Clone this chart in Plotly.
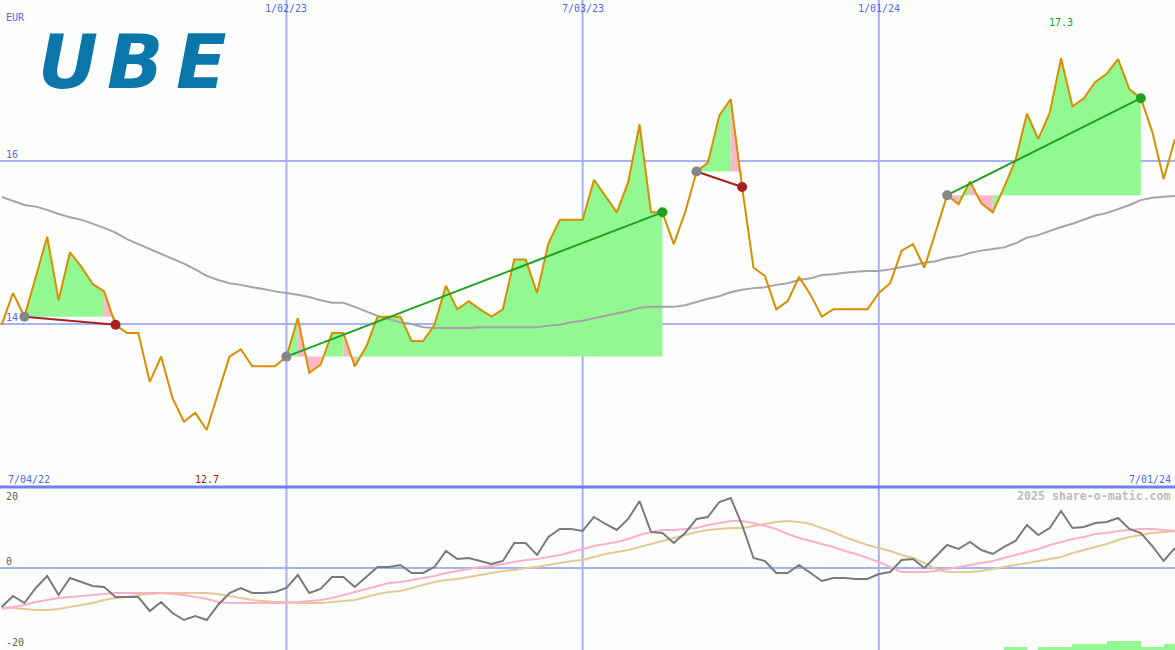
import plotly.graph_objects as go
import pandas as pd

# ---------------- data ----------------
start_date = "2022-07-11"
n_weeks = 104

price = [13.99, 14.38, 14.09, 14.58, 15.07, 14.29, 14.88, 14.70, 14.49, 14.40,
         13.99, 13.89, 13.89, 13.29, 13.60, 13.09, 12.80, 12.91, 12.70, 13.15,
         13.60, 13.69, 13.48, 13.48, 13.48, 13.60, 14.07, 13.40, 13.50, 13.89,
         13.89, 13.48, 13.72, 14.09, 14.09, 14.09, 13.79, 13.79, 13.99, 14.47,
         14.18, 14.28, 14.18, 14.09, 14.18, 14.79, 14.79, 14.38, 14.99, 15.28,
         15.28, 15.28, 15.77, 15.57, 15.37, 15.74, 16.45, 15.37, 15.37, 14.98,
         15.37, 15.87, 15.98, 16.56, 16.76, 15.68, 14.69, 14.59, 14.18, 14.28,
         14.58, 14.36, 14.09, 14.18, 14.18, 14.18, 14.18, 14.38, 14.50, 14.90,
         14.98, 14.69, 15.13, 15.58, 15.47, 15.75, 15.48, 15.37, 15.68, 16.01,
         16.58, 16.27, 16.59, 17.26, 16.67, 16.77, 16.97, 17.07, 17.25, 16.88,
         16.77, 16.36, 15.78, 16.27]

moving_avg = [15.56, 15.51, 15.46, 15.44, 15.40, 15.35, 15.31, 15.28, 15.23, 15.18,
              15.12, 15.04, 14.98, 14.92, 14.86, 14.80, 14.74, 14.67, 14.59, 14.54,
              14.50, 14.48, 14.45, 14.43, 14.40, 14.38, 14.36, 14.33, 14.29, 14.26,
              14.26, 14.21, 14.15, 14.10, 14.06, 14.02, 14.00, 13.96, 13.95, 13.95,
              13.95, 13.95, 13.96, 13.96, 13.96, 13.96, 13.96, 13.96, 13.98, 13.99,
              14.02, 14.04, 14.07, 14.10, 14.13, 14.16, 14.20, 14.21, 14.21, 14.21,
              14.23, 14.27, 14.31, 14.34, 14.39, 14.42, 14.44, 14.45, 14.48, 14.50,
              14.54, 14.56, 14.60, 14.61, 14.63, 14.64, 14.65, 14.65, 14.67, 14.70,
              14.72, 14.75, 14.77, 14.81, 14.83, 14.87, 14.90, 14.92, 14.94, 14.99,
              15.06, 15.09, 15.14, 15.19, 15.23, 15.28, 15.33, 15.36, 15.41, 15.46,
              15.52, 15.55, 15.56, 15.57]

momentum = [-9.75, -7.0, -8.75, -5.0, -2.0, -6.75, -2.5, -3.5, -4.5, -4.75,
            -7.25, -7.25, -7.25, -10.75, -8.5, -11.25, -13.0, -12.0, -13.0, -9.25,
            -6.25, -5.0, -6.25, -6.25, -6.0, -5.0, -1.75, -6.25, -5.25, -2.25,
            -2.25, -4.75, -2.25, 0.25, 0.25, 0.75, -1.25, -1.25, 0.25, 4.25,
            2.25, 2.5, 1.75, 1.0, 1.75, 6.25, 6.25, 3.25, 7.75, 9.75,
            9.75, 9.25, 12.75, 11.0, 9.5, 12.25, 16.75, 9.0, 8.75, 6.25,
            8.75, 12.25, 12.75, 16.5, 17.5, 10.75, 2.5, 1.75, -1.25, -1.25,
            0.75, -1.25, -3.25, -2.5, -2.5, -2.75, -2.75, -1.5, -1.0, 2.0,
            2.25, 0.0, 2.75, 5.75, 4.75, 6.5, 4.5, 3.5, 5.25, 6.75,
            10.75, 8.25, 10.0, 14.25, 10.0, 10.25, 11.25, 11.5, 12.5, 9.75,
            8.75, 5.5, 1.75, 5.0]

signal_fast = [-10.25, -9.75, -9.25, -8.5, -8.0, -7.5, -7.25, -7.0, -6.75, -6.5,
               -6.25, -6.25, -6.25, -6.25, -6.25, -6.5, -6.75, -7.25, -7.75, -8.5,
               -8.75, -8.75, -8.75, -8.75, -8.75, -8.75, -8.5, -8.25, -8.0, -7.5,
               -6.75, -6.0, -5.25, -4.5, -3.75, -3.5, -3.0, -2.5, -2.0, -1.25,
               -0.75, -0.25, 0.25, 0.5, 1.0, 1.5, 2.0, 2.25, 2.75, 3.25,
               4.0, 4.75, 5.5, 6.0, 6.5, 7.25, 8.25, 9.0, 9.5, 9.5,
               9.75, 10.0, 10.75, 11.25, 11.75, 11.75, 11.25, 10.5, 9.75, 8.5,
               7.5, 6.75, 6.0, 5.25, 4.25, 3.5, 2.5, 1.5, 0.25, -1.0,
               -1.0, -1.0, -0.75, -0.25, 0.25, 0.75, 1.25, 1.75, 2.5, 3.25,
               4.0, 4.75, 5.75, 6.5, 7.25, 7.75, 8.5, 8.75, 9.25, 9.5,
               9.75, 9.75, 9.5, 9.25]

signal_slow = [-9.75, -10.0, -10.25, -10.5, -10.5, -10.25, -9.75, -9.25, -8.75, -8.0,
               -7.5, -7.25, -6.75, -6.5, -6.25, -6.25, -6.25, -6.25, -6.25, -6.5,
               -7.0, -7.5, -8.0, -8.25, -8.5, -8.5, -8.75, -8.75, -8.75, -8.5,
               -8.25, -8.0, -7.25, -6.5, -6.0, -5.75, -5.0, -4.25, -3.5, -3.0,
               -2.75, -2.25, -1.75, -1.25, -0.75, -0.5, 0.0, 0.25, 0.75, 1.25,
               1.75, 2.0, 2.75, 3.5, 4.0, 4.5, 5.25, 6.0, 6.75, 7.5,
               8.25, 9.0, 9.5, 9.75, 10.0, 10.0, 10.5, 11.0, 11.5, 11.75,
               11.5, 11.0, 10.0, 9.0, 7.75, 6.75, 5.75, 5.0, 4.25, 3.25,
               2.5, 1.25, -0.25, -1.0, -1.0, -1.0, -0.75, -0.25, 0.25, 0.75,
               1.25, 1.75, 2.25, 2.75, 3.75, 4.5, 5.25, 6.0, 7.0, 7.75,
               8.25, 8.75, 9.0, 9.25]

signal_bars = [0.0] * 88 + [0.75, 0.75, 0.0, 0.75, 0.75, 0.75, 1.5, 1.5, 1.5,
                            2.25, 2.25, 2.25, 0.75, 0.75, 1.5, 0.0]

# trades: (start index, end index, outcome)
trades = [(2, 10, "loss"), (25, 58, "win"), (61, 65, "loss"), (83, 100, "win")]

grid_dates = ["2023-01-02", "2023-07-03", "2024-01-01"]
grid_date_labels = ["1/02/23", "7/03/23", "1/01/24"]
range_labels = ["7/04/22", "7/01/24"]
price_ticks = [14, 16]
lower_ticks = [20, 0, -20]
currency = "EUR"
min_label, max_label = "12.7", "17.3"
min_idx, max_idx = 18, 93

# ---------------- styles ----------------
BG = "#fcfefc"
GRID = "#a6b2f2"
SEP = "#6f80ee"
BLUE_TXT = "#5566ee"
ORANGE = "#d98e00"
MA_GRAY = "#a4a4a4"
GREEN_FILL = "#92f892"
PINK_FILL = "#ffb6c8"
WIN = "#20a020"
LOSS = "#a82020"
MONO = "DejaVu Sans Mono"

dates = pd.date_range(start_date, periods=n_weeks, freq="7D")
ds = [d.strftime("%Y-%m-%d") for d in dates]

fig = go.Figure()

# trade fills
gx, gy, px_, py_ = [], [], [], []
for s, e, _ in trades:
    base = price[s]
    for i in range(s, e):
        xs = [ds[i], ds[i + 1], ds[i + 1], ds[i], ds[i], None]
        ys = [price[i], price[i + 1], base, base, price[i], None]
        if price[i + 1] >= base:
            gx += xs; gy += ys
        else:
            px_ += xs; py_ += ys
fig.add_trace(go.Scatter(x=gx, y=gy, fill="toself", fillcolor=GREEN_FILL, mode="lines",
                         line=dict(width=0, color=GREEN_FILL), hoverinfo="skip", showlegend=False))
fig.add_trace(go.Scatter(x=px_, y=py_, fill="toself", fillcolor=PINK_FILL, mode="lines",
                         line=dict(width=0, color=PINK_FILL), hoverinfo="skip", showlegend=False))

# moving average and price
fig.add_trace(go.Scatter(x=ds, y=moving_avg, mode="lines", line=dict(color=MA_GRAY, width=2),
                         showlegend=False))
fig.add_trace(go.Scatter(x=ds, y=price, mode="lines", line=dict(color=ORANGE, width=2),
                         showlegend=False))

# trade lines and dots
for s, e, res in trades:
    col = WIN if res == "win" else LOSS
    fig.add_trace(go.Scatter(x=[ds[s], ds[e]], y=[price[s], price[e]], mode="lines",
                             line=dict(color=col, width=2), showlegend=False))
    fig.add_trace(go.Scatter(x=[ds[s]], y=[price[s]], mode="markers",
                             marker=dict(color="#868686", size=10), showlegend=False))
    fig.add_trace(go.Scatter(x=[ds[e]], y=[price[e]], mode="markers",
                             marker=dict(color=col, size=10), showlegend=False))

# lower panel
bar_x = [(d + pd.Timedelta(hours=84)).strftime("%Y-%m-%d %H:%M") for d in dates]
fig.add_trace(go.Bar(x=bar_x, y=signal_bars, base=-20.5, width=7 * 86400000,
                     marker=dict(color=GREEN_FILL, line=dict(width=0)),
                     xaxis="x2", yaxis="y2", showlegend=False))
fig.add_trace(go.Scatter(x=ds, y=signal_slow, mode="lines", line=dict(color="#e4c896", width=2),
                         xaxis="x2", yaxis="y2", showlegend=False))
fig.add_trace(go.Scatter(x=ds, y=signal_fast, mode="lines", line=dict(color="#ffb0c8", width=2),
                         xaxis="x2", yaxis="y2", showlegend=False))
fig.add_trace(go.Scatter(x=ds, y=momentum, mode="lines", line=dict(color="#7a7a7a", width=2),
                         xaxis="x2", yaxis="y2", showlegend=False))

split = 163 / 650
xr = ["2022-07-10", "2024-07-01"]
ax_common = dict(showgrid=False, zeroline=False, showticklabels=False, showline=False,
                 ticks="", fixedrange=True)
fig.update_layout(
    width=1175, height=650,
    margin=dict(l=0, r=0, t=0, b=0, pad=0, autoexpand=False),
    paper_bgcolor=BG, plot_bgcolor=BG,
    showlegend=False, bargap=0,
    xaxis=dict(range=xr, anchor="y", type="date", **ax_common),
    yaxis=dict(range=[12.0, 17.975], domain=[split, 1], **ax_common),
    xaxis2=dict(range=xr, anchor="y2", matches="x", type="date", **ax_common),
    yaxis2=dict(range=[-20.5, 20], domain=[0, split - 0.0015], **ax_common),
)

shapes = []
for gd in grid_dates:
    shapes.append(dict(type="line", xref="x", yref="paper", x0=gd, x1=gd, y0=0, y1=1,
                       line=dict(color=GRID, width=2), layer="below"))
for t in price_ticks:
    shapes.append(dict(type="line", xref="paper", yref="y", x0=0, x1=1, y0=t, y1=t,
                       line=dict(color=GRID, width=2), layer="below"))
shapes.append(dict(type="line", xref="paper", yref="y2", x0=0, x1=1, y0=0, y1=0,
                   line=dict(color=GRID, width=2), layer="below"))
shapes.append(dict(type="line", xref="paper", yref="paper", x0=0, x1=1, y0=split, y1=split,
                   line=dict(color=SEP, width=3), layer="below"))
fig.update_layout(shapes=shapes)

def ann(text, x, y, xref="paper", yref="paper", xanchor="left", yanchor="middle",
        color=BLUE_TXT, size=10, family=MONO, weight="normal", style="normal", yshift=0):
    return dict(text=text, x=x, y=y, xref=xref, yref=yref, xanchor=xanchor, yanchor=yanchor,
                showarrow=False, yshift=yshift, borderpad=0,
                font=dict(color=color, size=size, family=family, weight=weight, style=style))

P = lambda py: 1 - py / 650
anns = []
anns.append(ann(currency, 5 / 1175, P(18)))
for t in price_ticks:
    anns.append(ann(str(t), 5 / 1175, t, yref="y", yshift=6))
for gd, lab in zip(grid_dates, grid_date_labels):
    anns.append(ann(lab, gd, P(9), xref="x", xanchor="center"))
anns.append(ann(range_labels[0], 7 / 1175, P(479)))
anns.append(ann(range_labels[1], 1172 / 1175, P(479), xanchor="right"))
anns.append(ann(min_label, ds[min_idx], P(479), xref="x", xanchor="center", color="#a02020"))
anns.append(ann(max_label, ds[max_idx], P(22), xref="x", xanchor="center", color="#20a020"))
anns.append(ann(str(lower_ticks[0]), 5 / 1175, P(496), color="#606060"))
anns.append(ann(str(lower_ticks[1]), 5 / 1175, 0, yref="y2", yshift=6, color="#606060"))
anns.append(ann(str(lower_ticks[2]), 5 / 1175, P(642), color="#606060"))
anns.append(ann("2025 share-o-matic.com", 1172 / 1175, P(496), xanchor="right",
                color="#bcbcbc", size=11.6, weight="bold"))
# logo letters
for ch, cx in zip("UBE", [68, 135, 201]):
    anns.append(ann(ch, cx / 1175, P(62), xanchor="center", color="#0a76aa", size=74,
                    family="DejaVu Sans", weight="bold", style="italic"))
fig.update_layout(annotations=anns)

fig.write_html("out.html", config={"displayModeBar": False},
               post_script="document.body.style.margin='0';document.body.style.overflow='hidden';")
